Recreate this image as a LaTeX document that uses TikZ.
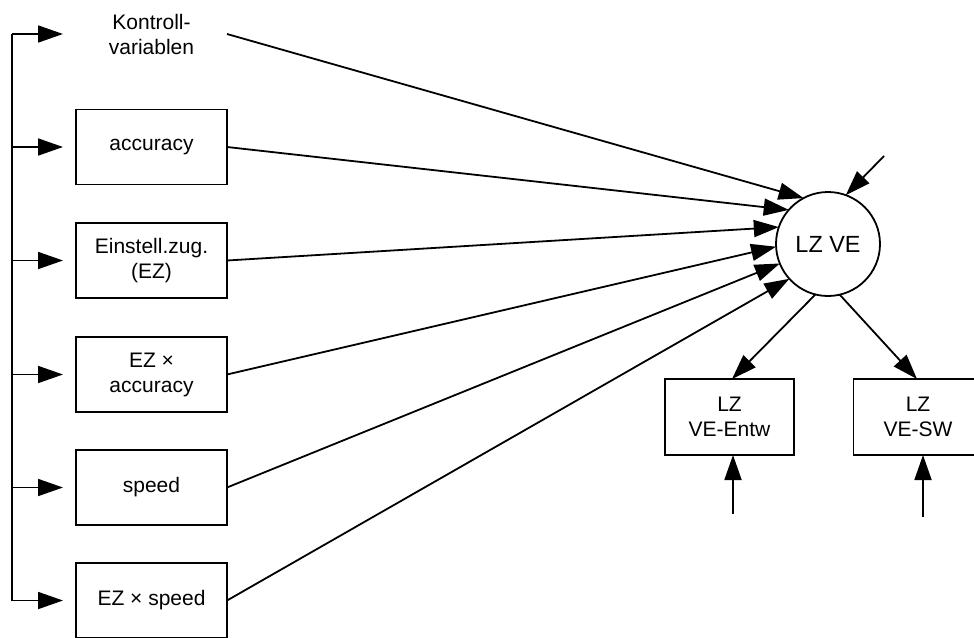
\documentclass[tikz,border=0pt]{standalone}
\usepackage{fontspec}
\setmainfont{Liberation Sans}
\usetikzlibrary{arrows.meta}

\tikzset{
  kasten/.style={draw, minimum width=75.5pt, minimum height=37.5pt, align=center, inner sep=0pt, outer sep=0pt},
  leer/.style={minimum width=75.5pt, minimum height=37.5pt, align=center, inner sep=0pt, outer sep=0pt},
  kleinkasten/.style={draw, minimum width=64.5pt, minimum height=38pt, align=center, inner sep=0pt, outer sep=0pt},
  kreis/.style={draw, circle, minimum size=52pt, inner sep=0pt, outer sep=0pt, font=\fontsize{11.7}{14}\selectfont},
  pfeil/.style={-{Triangle[length=12.5pt,width=8.5pt]}}
}

\begin{document}
\begin{tikzpicture}[x=0.5pt,y=-0.5pt,line width=0.9pt,font=\fontsize{10.5}{12.5}\selectfont]
\useasboundingbox (0,0) rectangle (974,637);

% Praediktoren
\node[leer] (kv) at (151.5,34) {Kontroll-\\variablen};
\node[kasten] (acc) at (151.5,147) {accuracy};
\node[kasten] (ez) at (151.5,260.5) {Einstell.zug.\\(EZ)};
\node[kasten] (eza) at (151.5,374.5) {EZ ×\\accuracy};
\node[kasten] (spd) at (151.5,487.5) {speed};
\node[kasten] (ezs) at (151.5,600.5) {EZ × speed};

% latente Variablen
\node[kreis] (lz) at (828,244) {LZ VE};
\node[kleinkasten] (ent) at (729.5,417) {LZ\\VE-Entw};
\node[kleinkasten] (sw) at (918,417) {LZ\\VE-SW};

% Klammer links
\coordinate (bus) at (12,0);
\draw (bus |- kv) -- (bus |- ezs);
\foreach \n in {kv,acc,ez,eza,spd,ezs}{
  \draw[pfeil, shorten >=6.5pt] (bus |- \n) -- (\n.west);
}

% Pfade zu LZ VE
\draw[pfeil] (kv.east) -- (lz.118);
\draw[pfeil] (acc.east) -- (lz.139);
\draw[pfeil] (ez.east) -- (lz.161);
\draw[pfeil] (eza.east) -- (lz.183);
\draw[pfeil] (spd.east) -- (lz.202);
\draw[pfeil] (ezs.east) -- (lz.222);

\draw[pfeil] (lz.256) -- (ent.north -| 732,0);
\draw[pfeil] (lz.-77) -- (sw.north -| 917,0);

% Residuen
\coordinate (lzres) at (884,156);
\coordinate (entres) at (733,514);
\coordinate (swres) at (923,517);
\draw[pfeil] (lzres) -- (lz.70);
\draw[pfeil] (entres) -- (entres |- ent.south);
\draw[pfeil] (swres) -- (swres |- sw.south);
\end{tikzpicture}
\end{document}
